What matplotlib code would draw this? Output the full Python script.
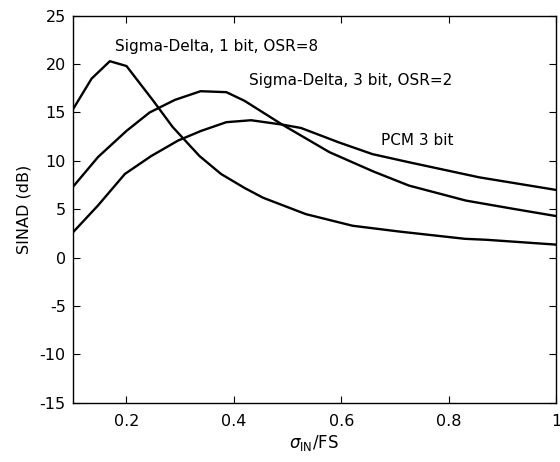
import numpy as np
import matplotlib
matplotlib.use("Agg")
import matplotlib.pyplot as plt

plt.rcParams['font.family'] = ['DejaVu Sans']
plt.rcParams['mathtext.fontset'] = 'dejavusans'
plt.rcParams['axes.unicode_minus'] = False

# Sigma-Delta, 1 bit, OSR=8
sd1_x = [0.1, 0.135, 0.169, 0.2, 0.25, 0.286, 0.336, 0.376, 0.42, 0.454,
         0.534, 0.621, 0.708, 0.83, 0.87, 1.0]
sd1_y = [15.3, 18.5, 20.3, 19.8, 16.2, 13.5, 10.5, 8.65, 7.2, 6.2,
         4.5, 3.3, 2.7, 1.95, 1.85, 1.35]

# Sigma-Delta, 3 bit, OSR=2
sd3_x = [0.1, 0.147, 0.2, 0.243, 0.29, 0.338, 0.386, 0.42, 0.49, 0.578,
         0.66, 0.726, 0.832, 0.92, 1.0]
sd3_y = [7.3, 10.4, 13.1, 15.0, 16.3, 17.2, 17.1, 16.2, 13.75, 10.9,
         8.9, 7.45, 5.9, 5.05, 4.3]

# PCM 3 bit
pcm_x = [0.1, 0.147, 0.197, 0.246, 0.296, 0.339, 0.386, 0.432, 0.49, 0.525,
         0.596, 0.658, 0.726, 0.857, 1.0]
pcm_y = [2.6, 5.4, 8.65, 10.5, 12.1, 13.1, 14.0, 14.2, 13.75, 13.4,
         11.9, 10.7, 9.86, 8.3, 7.0]

fig = plt.figure(figsize=(5.6, 4.62), dpi=100)
ax = fig.add_axes([0.130, 0.128, 0.863, 0.838])

for xs, ys in [(sd1_x, sd1_y), (sd3_x, sd3_y), (pcm_x, pcm_y)]:
    ax.plot(xs, ys, color='black', lw=1.7)

ax.text(0.178, 21.8, 'Sigma-Delta, 1 bit, OSR=8', fontsize=11, va='center')
ax.text(0.429, 18.3, 'Sigma-Delta, 3 bit, OSR=2', fontsize=11, va='center')
ax.text(0.674, 12.1, 'PCM 3 bit', fontsize=11, va='center')

ax.set_xlim(0.1, 1.0)
ax.set_ylim(-15, 25)
ax.set_xticks([0.2, 0.4, 0.6, 0.8, 1.0])
ax.set_xticklabels(['0.2', '0.4', '0.6', '0.8', '1'])
ax.set_yticks(np.arange(-15, 26, 5))
ax.tick_params(direction='in', top=True, right=True, length=5, labelsize=11.5)
ax.tick_params(axis='x', pad=8)
ax.tick_params(axis='y', pad=5)
for s in ax.spines.values():
    s.set_linewidth(1.0)

ax.set_ylabel('SINAD (dB)', fontsize=11.5, labelpad=6)
ax.set_xlabel(r'$\sigma_{\mathrm{IN}}$/FS', fontsize=12, labelpad=3)

fig.savefig('out.png', dpi=100)
